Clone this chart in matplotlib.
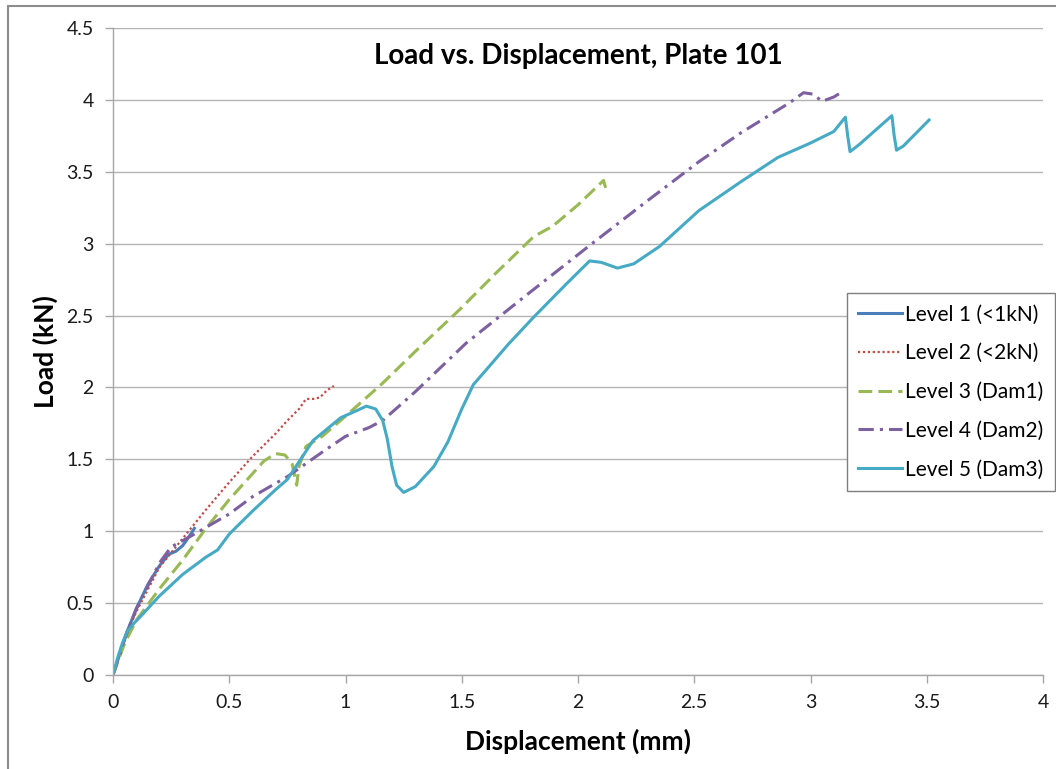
import matplotlib
matplotlib.use("Agg")
import matplotlib.pyplot as plt
from matplotlib.patches import Rectangle

plt.rcParams['font.family'] = ['Lato', 'DejaVu Sans']

# Level 1 (<1kN)
x1 = [0, 0.03, 0.06, 0.1, 0.15, 0.2, 0.24, 0.27, 0.3, 0.33, 0.35]
y1 = [0, 0.15, 0.3, 0.46, 0.63, 0.76, 0.84, 0.86, 0.9, 0.97, 1.02]

# Level 2 (<2kN)
x2 = [0, 0.05, 0.1, 0.2, 0.3, 0.4, 0.5, 0.6, 0.7, 0.75, 0.8, 0.83, 0.86, 0.89, 0.92, 0.95]
y2 = [0, 0.25, 0.44, 0.75, 0.95, 1.15, 1.34, 1.52, 1.68, 1.77, 1.85, 1.92, 1.92, 1.93, 1.98, 2.01]

# Level 3 (Dam1)
x3 = [0, 0.05, 0.1, 0.2, 0.3, 0.4, 0.5, 0.6, 0.65, 0.7, 0.74, 0.77, 0.79, 0.8, 0.83,
      0.9, 1.0, 1.16, 1.3, 1.49, 1.65, 1.81, 1.89, 2.0, 2.11, 2.12, 2.14]
y3 = [0, 0.22, 0.38, 0.6, 0.8, 1.02, 1.22, 1.4, 1.49, 1.54, 1.53, 1.47, 1.32, 1.45, 1.59,
      1.66, 1.8, 2.03, 2.25, 2.54, 2.8, 3.05, 3.12, 3.27, 3.44, 3.38, 3.39]

# Level 4 (Dam2)
x4 = [0, 0.05, 0.1, 0.2, 0.25, 0.35, 0.5, 0.6, 0.75, 0.9, 1.0, 1.1, 1.16, 1.3, 1.52,
      1.8, 2.06, 2.3, 2.52, 2.7, 2.91, 2.97, 3.01, 3.05, 3.1, 3.14]
y4 = [0, 0.25, 0.46, 0.78, 0.89, 0.98, 1.12, 1.24, 1.38, 1.55, 1.66, 1.72, 1.77, 1.97, 2.31,
      2.67, 3.0, 3.3, 3.57, 3.77, 3.98, 4.05, 4.04, 3.99, 4.02, 4.06]

# Level 5 (Dam3)
x5 = [0, 0.02, 0.04, 0.06, 0.09, 0.12, 0.2, 0.3, 0.4, 0.45, 0.5, 0.6, 0.7, 0.75, 0.86,
      0.98, 1.05, 1.09, 1.13, 1.16, 1.18, 1.2, 1.22, 1.25, 1.3, 1.38, 1.44, 1.5, 1.55,
      1.62, 1.7, 1.81, 1.95, 2.05, 2.1, 2.17, 2.24, 2.35, 2.52, 2.7, 2.86, 3.0, 3.1,
      3.15, 3.16, 3.17, 3.21, 3.35, 3.36, 3.37, 3.4, 3.51]
y5 = [0, 0.12, 0.22, 0.3, 0.36, 0.41, 0.55, 0.7, 0.82, 0.87, 0.98, 1.14, 1.29, 1.36, 1.63,
      1.79, 1.84, 1.87, 1.85, 1.77, 1.64, 1.45, 1.32, 1.27, 1.31, 1.45, 1.62, 1.85, 2.02,
      2.15, 2.3, 2.49, 2.72, 2.88, 2.87, 2.83, 2.86, 2.98, 3.23, 3.43, 3.6, 3.7, 3.78,
      3.88, 3.75, 3.64, 3.69, 3.89, 3.75, 3.65, 3.68, 3.86]

labels = ['Level 1 (<1kN)', 'Level 2 (<2kN)', 'Level 3 (Dam1)', 'Level 4 (Dam2)', 'Level 5 (Dam3)']
x_ticks = [0, 0.5, 1, 1.5, 2, 2.5, 3, 3.5, 4]
y_ticks = [0, 0.5, 1, 1.5, 2, 2.5, 3, 3.5, 4, 4.5]

fig = plt.figure(figsize=(10.56, 7.69), dpi=100)
ax = fig.add_axes([113 / 1056, 1 - 675 / 769, 930 / 1056, 647 / 769])

# outer chart border (cut off at right/bottom like the reference)
fig.patches.append(Rectangle((8 / 1056, -0.1), 1.2, 1.1 - 6 / 769, transform=fig.transFigure,
                             fill=False, edgecolor='#8c8c8c', linewidth=1.5))

ax.plot(x1, y1, color='#4A7EBB', lw=2.2, label=labels[0])
ax.plot(x2, y2, color='#BE4B48', lw=1.6, linestyle=(0, (1, 1.2)), label=labels[1])
ax.plot(x3, y3, color='#98B954', lw=2.2, linestyle=(0, (4.5, 2)), label=labels[2])
ax.plot(x4, y4, color='#7D60A0', lw=2.2, linestyle=(0, (5, 2, 1, 2)), label=labels[3])
ax.plot(x5, y5, color='#46AAC5', lw=2.2, label=labels[4])

ax.set_xlim(0, 4)
ax.set_ylim(0, 4.5)
ax.set_xticks(x_ticks)
ax.set_xticklabels(['0', '0.5', '1', '1.5', '2', '2.5', '3', '3.5', '4'])
ax.set_yticks(y_ticks)
ax.set_yticklabels(['0', '0.5', '1', '1.5', '2', '2.5', '3', '3.5', '4', '4.5'])
ax.grid(axis='y', color='#b3b3b3', linewidth=1)
ax.set_axisbelow(True)
for s in ['top', 'right']:
    ax.spines[s].set_visible(False)
for s in ['left', 'bottom']:
    ax.spines[s].set_color('#a6a6a6')
    ax.spines[s].set_linewidth(1)
ax.tick_params(direction='out', length=6, width=1, color='#a6a6a6', labelsize=14, pad=8,
               labelcolor='#1a1a1a')

ax.set_title('Load vs. Displacement, Plate 101', fontsize=20, fontweight='bold', y=0.932)
ax.set_xlabel('Displacement (mm)', fontsize=19, fontweight='bold', va='center')
ax.xaxis.set_label_coords(0.5, (675 - 741) / 647)
ax.set_ylabel('Load (kN)', fontsize=19, fontweight='bold', va='center')
ax.yaxis.set_label_coords((45 - 113) / 930, 0.5)

leg = ax.legend(loc='upper left', bbox_to_anchor=(847 / 1056, 1 - 293 / 769),
                bbox_transform=fig.transFigure, fontsize=15, frameon=True, fancybox=False,
                edgecolor='#7f7f7f', framealpha=1, handlelength=2.1, handletextpad=0.15,
                labelspacing=0.9, borderpad=0.55, borderaxespad=0)
leg.get_frame().set_linewidth(1)

fig.savefig('out.png', dpi=100)
